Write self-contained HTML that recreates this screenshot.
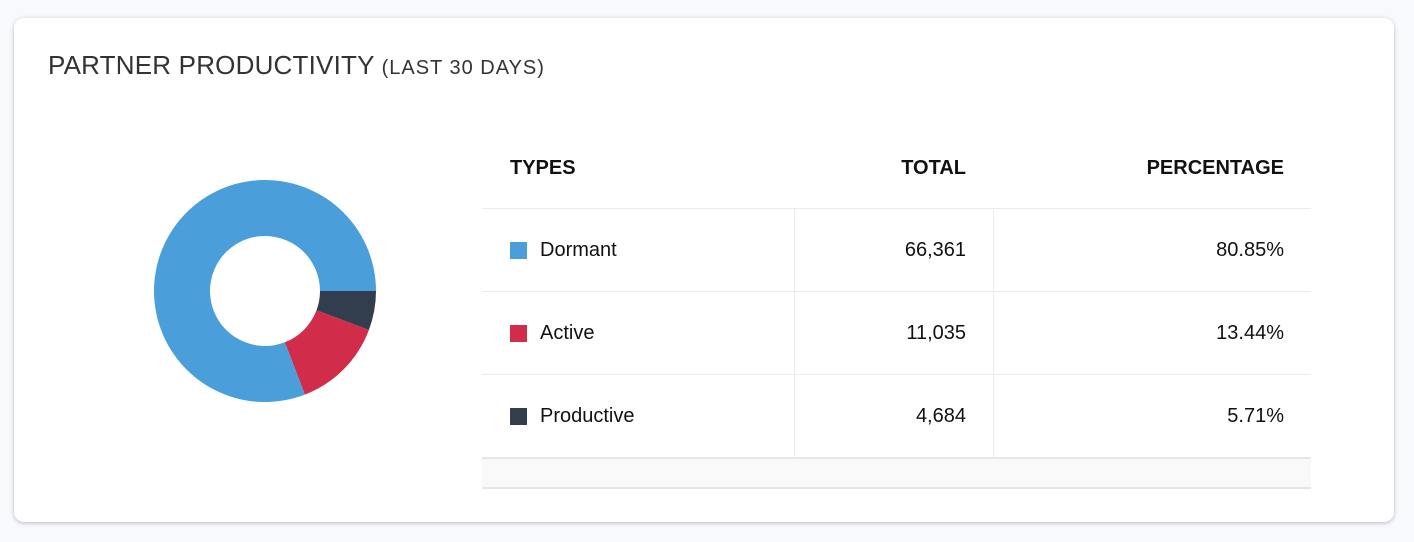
<!DOCTYPE html>
<html><head><style>
body{margin:0;width:1414px;height:542px;background:#f8f9fc;font-family:"Liberation Sans",sans-serif;position:relative;overflow:hidden}
.card{position:absolute;left:14px;top:18px;width:1380px;height:504px;background:#fff;border-radius:10px;box-shadow:0 1px 4px rgba(0,0,0,.25)}
.t{position:absolute;left:48px;top:50px;font-size:26px;color:#333;letter-spacing:0.2px}
.t small{font-size:20px;letter-spacing:1px}
.a{position:absolute;font-size:20px;color:#111}
.h{font-weight:bold;top:157px}
.hl{position:absolute;background:#ebebeb;height:1px;left:482px;width:829px}
.vl{position:absolute;background:#ebebeb;width:1px;top:208px;height:249px}
.sq{position:absolute;left:510px;width:17px;height:17px}
.r{text-align:right}
</style></head><body>
<div class="card"></div>
<div class="t">PARTNER PRODUCTIVITY <small>(LAST 30 DAYS)</small></div>
<svg style="position:absolute;left:0;top:0" width="1414" height="542">
<path d="M376,291 A111,111 0 0 1 368.9,330 L316.5,310.3 A55,55 0 0 0 320,291Z" fill="#323d4e"/>
<path d="M368.9,330 A111,111 0 0 1 304.9,394.6 L284.8,342.3 A55,55 0 0 0 316.5,310.3Z" fill="#d12c49"/>
<path d="M304.9,394.6 A111,111 0 1 1 376,291 L320,291 A55,55 0 1 0 284.8,342.3Z" fill="#4a9fdb"/>
</svg>
<div class="a h" style="left:510px">TYPES</div>
<div class="a h r" style="right:448px">TOTAL</div>
<div class="a h r" style="right:130px">PERCENTAGE</div>
<div class="hl" style="top:208px"></div>
<div class="hl" style="top:291px"></div>
<div class="hl" style="top:374px"></div>
<div class="vl" style="left:794px"></div>
<div class="vl" style="left:993px"></div>
<div style="position:absolute;left:482px;width:829px;top:457px;height:28px;background:#f9f9f9;border-top:2px solid #e6e6e6;border-bottom:2px solid #e6e6e6"></div>
<div class="sq" style="top:242px;background:#4a9fdb"></div>
<div class="sq" style="top:325px;background:#d12c49"></div>
<div class="sq" style="top:408px;background:#323d4e"></div>
<div class="a" style="left:540px;top:239px">Dormant</div>
<div class="a" style="left:540px;top:322px">Active</div>
<div class="a" style="left:540px;top:405px">Productive</div>
<div class="a r" style="right:448px;top:239px">66,361</div>
<div class="a r" style="right:448px;top:322px">11,035</div>
<div class="a r" style="right:448px;top:405px">4,684</div>
<div class="a r" style="right:130px;top:239px">80.85%</div>
<div class="a r" style="right:130px;top:322px">13.44%</div>
<div class="a r" style="right:130px;top:405px">5.71%</div>
</body></html>
